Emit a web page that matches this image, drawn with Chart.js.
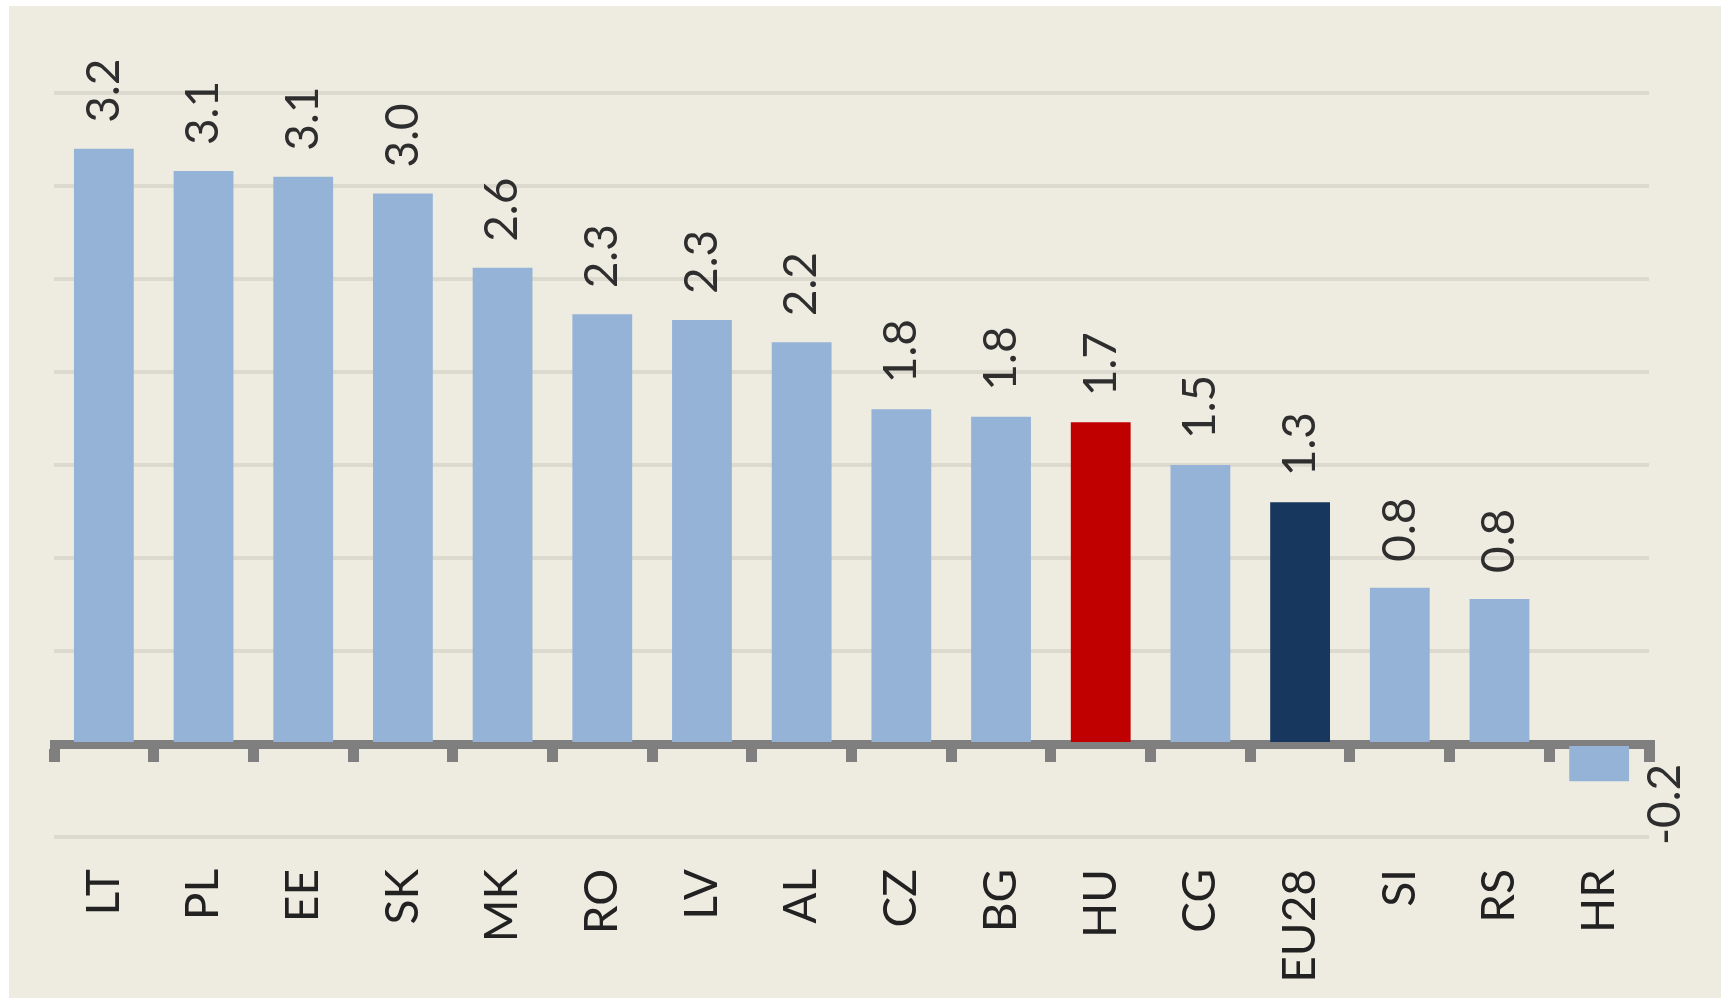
<!DOCTYPE html>
<html>
<head>
<meta charset="utf-8">
<script src="https://cdn.jsdelivr.net/npm/chart.js@4/dist/chart.umd.min.js"></script>
<style>
  html, body { margin: 0; padding: 0; background: #ffffff; }
  #bg { position: absolute; left: 9px; top: 6px; width: 1712px; height: 992px; background: #eeece1; }
  #wrap { position: absolute; left: 0; top: 0; width: 1721px; height: 998px; }
  canvas { display: block; }
</style>
</head>
<body>
<div id="bg"></div>
<div id="wrap"><canvas id="c" width="1721" height="998"></canvas></div>
<script>
// ---- data ----
const categories = ['LT','PL','EE','SK','MK','RO','LV','AL','CZ','BG','HU','CG','EU28','SI','RS','HR'];
const values = [3.2, 3.08, 3.05, 2.96, 2.56, 2.31, 2.28, 2.16, 1.80, 1.76, 1.73, 1.50, 1.30, 0.84, 0.78, -0.2];
const valueLabels = ['3.2','3.1','3.1','3.0','2.6','2.3','2.3','2.2','1.8','1.8','1.7','1.5','1.3','0.8','0.8','-0.2'];
const yTicks = [-0.5, 0, 0.5, 1, 1.5, 2, 2.5, 3, 3.5];

// ---- styles ----
const BLUE = '#95b3d7', RED = '#c00000', NAVY = '#17375e';
const barColors = categories.map(c => c === 'HU' ? RED : (c === 'EU28' ? NAVY : BLUE));
const FONT = 'Lato, "Open Sans", sans-serif';

const valueLabelPlugin = {
  id: 'valueLabels',
  afterDatasetsDraw(chart) {
    const ctx = chart.ctx;
    const meta = chart.getDatasetMeta(0);
    const zero = chart.scales.y.getPixelForValue(0);
    ctx.save();
    ctx.font = '46px ' + FONT;
    ctx.fillStyle = '#2e2e2e';
    ctx.textBaseline = 'middle';
    ctx.textAlign = 'left';
    meta.data.forEach((bar, i) => {
      ctx.save();
      if (values[i] >= 0) {
        ctx.translate(bar.x, bar.y - 26);
      } else {
        ctx.translate(bar.x + 66, zero + 101);
      }
      ctx.rotate(-Math.PI / 2);
      ctx.fillText(valueLabels[i], 0, 0);
      ctx.restore();
    });
    ctx.restore();
  }
};

new Chart(document.getElementById('c'), {
  type: 'bar',
  data: {
    labels: categories,
    datasets: [{
      data: values,
      backgroundColor: barColors,
      borderWidth: 0,
      barPercentage: 0.6,
      categoryPercentage: 1.0
    }]
  },
  options: {
    responsive: false,
    animation: false,
    events: [],
    layout: { padding: { left: 54, right: 72, top: 93, bottom: 0 } },
    plugins: { legend: { display: false }, tooltip: { enabled: false } },
    scales: {
      x: {
        type: 'category',
        position: 'bottom',
        offset: true,
        grid: { display: false, drawTicks: false },
        border: { display: false },
        ticks: {
          autoSkip: false,
          minRotation: 90,
          maxRotation: 90,
          padding: 32,
          color: '#222222',
          font: { family: FONT, size: 46 }
        },
        afterFit: (s) => { s.height = 161; }
      },
      x2: {
        type: 'category',
        labels: categories,
        position: { y: 0 },
        offset: true,
        z: 1,
        grid: {
          offset: true,
          drawOnChartArea: false,
          drawTicks: true,
          tickLength: 13,
          lineWidth: 11,
          color: '#7f7f7f'
        },
        border: { display: true, color: '#7f7f7f', width: 9 },
        ticks: { display: false }
      },
      y: {
        type: 'linear',
        min: -0.5,
        max: 3.5,
        afterBuildTicks: (s) => { s.ticks = yTicks.map(v => ({ value: v })); },
        grid: {
          drawTicks: false,
          lineWidth: 4,
          color: (c) => (c.tick && c.tick.value === 0) ? 'rgba(0,0,0,0)' : '#dcd9cf'
        },
        border: { display: false },
        ticks: { display: false },
        afterFit: (s) => { s.width = 0; }
      }
    }
  },
  plugins: [valueLabelPlugin]
});
</script>
</body>
</html>
